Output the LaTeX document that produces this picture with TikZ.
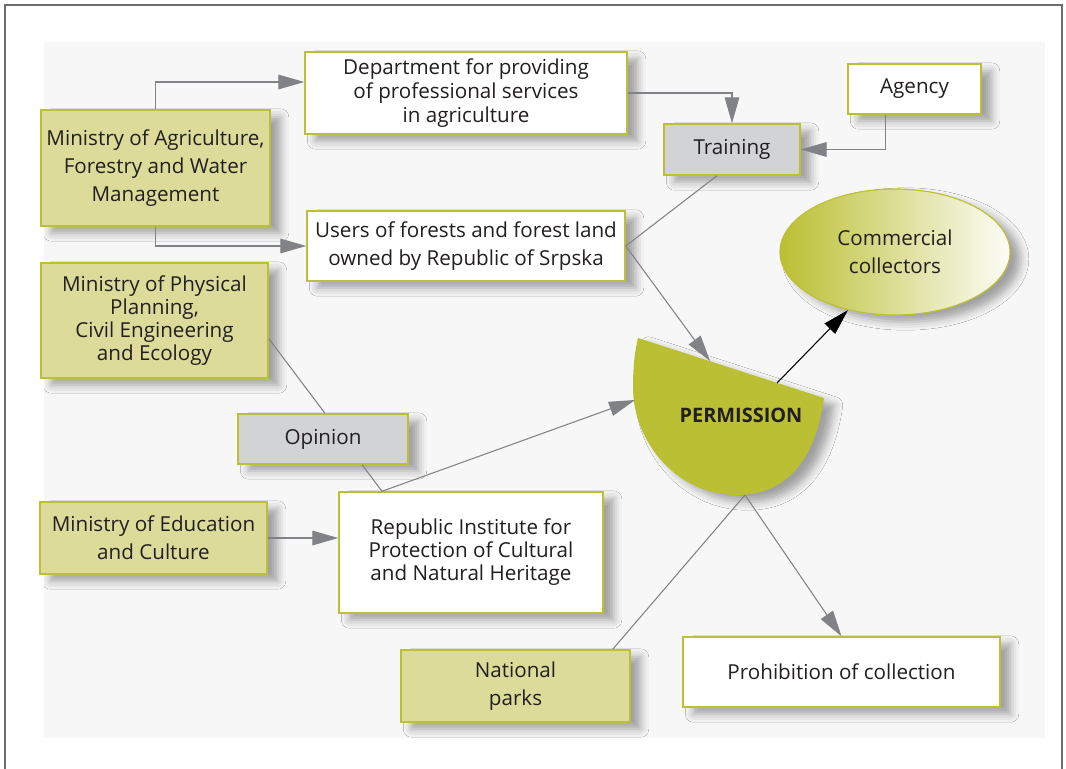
\documentclass[tikz,border=0pt]{standalone}
\usepackage{fontspec}
\setmainfont{Open Sans}
\usetikzlibrary{positioning,shapes.geometric,arrows.meta,shadows.blur,calc}

\definecolor{rim}{HTML}{BCC034}
\definecolor{leaf}{HTML}{DCDB9A}
\definecolor{stone}{HTML}{D1D3D4}
\definecolor{wire}{HTML}{808285}
\definecolor{ink}{HTML}{231F20}
\definecolor{panel}{HTML}{F7F7F7}
\definecolor{frame}{HTML}{6D6E71}
\definecolor{permfill}{HTML}{BBBF33}

\begin{document}
\begin{tikzpicture}[
        x=0.03cm, y=-0.03cm,
        font=\fontsize{17.6}{19.6}\selectfont,
        softshadow/.style={
                blur shadow={shadow xshift=9pt, shadow yshift=-6pt,
                        shadow blur radius=7pt, shadow opacity=35}
            },
        box/.style={
                rectangle,
                draw=rim,
                line width=1.2pt,
                fill=white,
                text=ink,
                align=center,
                inner sep=2pt,
                softshadow
            },
        ministry/.style={box, fill=leaf},
        remark/.style={box, fill=stone},
        wire/.style={draw=wire, line width=0.9pt},
        arrow/.style={wire, -{Triangle[length=7.8mm, width=4.4mm]}},
        blackarrow/.style={draw=black, line width=0.9pt, -{Triangle[length=7.8mm, width=4.4mm]}}
    ]
    \useasboundingbox (0,0) rectangle (1066,769);
    \fill[panel] (44,42) rectangle (1045,738);
    \draw[frame, line width=1.2pt] (5,769) -- (5,5) -- (1062,5) -- (1062,769);

    \node[box, minimum width=9.66cm, minimum height=2.46cm] (dept) at (466,93)
        {\raisebox{-4pt}{\shortstack{Department for providing\\of professional services\\in agriculture}}};
    \node[box, minimum width=3.99cm, minimum height=1.5cm] (agency) at (914.5,89) {Agency};
    \node[remark, minimum width=4.08cm, minimum height=1.53cm] (training) at (732,149.5) {Training};
    \node[ministry, minimum width=6.87cm, minimum height=3.48cm] (minagri) at (155.5,168)
        {Ministry of Agriculture,\\[4pt]Forestry and Water\\[4pt]Management};
    \node[box, minimum width=9.54cm, minimum height=2.1cm] (users) at (466,246)
        {Users of forests and forest land\\[4pt]owned by Republic of Srpska};
    \node[ellipse, draw=rim, line width=1pt, left color=permfill, right color=permfill!4,
          text=ink, align=center, minimum width=6.9cm, minimum height=3.78cm, softshadow]
        (commercial) at (895,252) {Commercial\\[4pt]collectors};
    \node[ministry, minimum width=6.81cm, minimum height=3.45cm] (minphys) at (154.5,320.5)
        {Ministry of Physical\\Planning,\\Civil Engineering\\and Ecology};
    \node[remark, minimum width=5.1cm, minimum height=1.5cm] (opinion) at (323,439) {Opinion};
    \node[ministry, minimum width=6.81cm, minimum height=2.16cm] (minedu) at (153.5,538)
        {Ministry of Education\\[4pt]and Culture};
    \node[box, minimum width=7.92cm, minimum height=3.63cm] (inst) at (471,552.5)
        {Republic Institute for\\Protection of Cultural\\and Natural Heritage};
    \node[ministry, minimum width=6.87cm, minimum height=2.16cm] (parks) at (515.5,686)
        {National\\[4pt]parks};
    \node[box, minimum width=9.51cm, minimum height=2.1cm] (prohib) at (841.5,672)
        {Prohibition of collection};

    \path[fill=permfill, softshadow] (638,338) -- (824,398)
        .. controls (815,462) and (785,495) .. (737,495)
        .. controls (675,495) and (633,440) .. (633,388)
        .. controls (633,365) and (635,350) .. (638,338) -- cycle;
    \node[text=ink, font=\fontsize{17}{19.6}\selectfont\bfseries] (perm) at (741,415) {PERMISSION};
    \coordinate (permtop) at (710,361);
    \coordinate (permleft) at (635,400);
    \coordinate (permnose) at (777,383);
    \coordinate (permbottom) at (745,495);

    \draw[arrow] (minagri.north) |- ($(dept.west)+(0,-11)$);
    \draw[arrow] (minagri.south) |- (users.west);
    \draw[arrow] (dept.east) -| (training.north);
    \draw[arrow] ($(agency.south)+(-29,0)$) |- (training.east);
    \draw[wire] ($(training.south)+(-15,0)$) -- (users.east);
    \draw[arrow] (users.east) -- (permtop);
    \draw[wire] ($(minphys.east)+(0,18)$) -- ($(opinion.north)+(2,0)$);
    \draw[wire] ($(opinion.south)+(39,0)$) -- ($(inst.north)+(-89,0)$);
    \draw[arrow] ($(inst.north)+(-89,0)$) -- (permleft);
    \draw[arrow] (minedu.east) -- (minedu.east -| inst.west);
    \draw[wire] ($(parks.north east)+(-18,0)$) -- (permbottom);
    \draw[arrow] (permbottom) -- (prohib.north);
    \draw[blackarrow] (permnose) -- (commercial.231);
\end{tikzpicture}
\end{document}
